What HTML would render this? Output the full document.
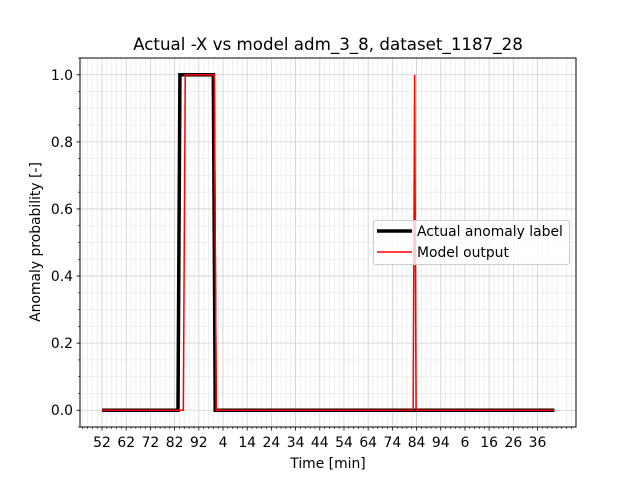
<!DOCTYPE html>
<html><head><meta charset="utf-8"><style>
body{margin:0;background:#fff}
svg text{font-family:"DejaVu Sans","Liberation Sans",sans-serif;fill:#000}
</style></head><body>
<svg id="c" width="640" height="480" viewBox="0 0 640 480">
<rect x="0" y="0" width="640" height="480" fill="#fff"/>
<g id="grid"></g><g id="series"></g><g id="axes"></g>
</svg>
<script>
const tickLabels=["52","62","72","82","92","4","14","24","34","44","54","64","74","84","94","6","16","26","36"];
const yTicks=[0,0.2,0.4,0.6,0.8,1.0];
const actualX=[0,31.4,32.2,46.0,46.8,129.3,129.5,187];
const actualY=[0,0,1,1,0,0,0,0];
const modelX=[0,33.6,34.4,46.4,47.2,128.6,129.2,129.8,187];
const modelY=[0,0,1,1,0,0,1,0,0];
const L=80,R=576,T=58,B=427,xmin=-9.1,xmax=195.9,ymin=-0.05,ymax=1.05;
const sx=v=>L+(v-xmin)/(xmax-xmin)*(R-L);
const sy=v=>B-(v-ymin)/(ymax-ymin)*(B-T);
const NS="http://www.w3.org/2000/svg";
function mk(tag,attrs,parent,txt){const e=document.createElementNS(NS,tag);for(const k in attrs)e.setAttribute(k,attrs[k]);if(txt!==undefined)e.textContent=txt;parent.appendChild(e);return e;}
const grid=document.getElementById('grid'),ser=document.getElementById('series'),ax=document.getElementById('axes');
for(let v=-8;v<=194;v+=2){if(v%10===0)continue;const g=mk('line',{x1:sx(v),x2:sx(v),y1:T,y2:B,stroke:'#ebebeb','stroke-width':0.8},grid);

}
for(let v=-0.05;v<=1.05;v+=0.05){if(Math.abs(Math.round(v*5)-v*5)<1e-6)continue;const g=mk('line',{x1:L,x2:R,y1:sy(v),y2:sy(v),stroke:'#ebebeb','stroke-width':0.8},grid);

}
tickLabels.forEach((t,i)=>{const x=sx(i*10);const g=mk('line',{x1:x,x2:x,y1:T,y2:B,stroke:'#cfcfcf','stroke-width':0.8},grid);

});
yTicks.forEach(v=>{const g=mk('line',{x1:L,x2:R,y1:sy(v),y2:sy(v),stroke:'#cfcfcf','stroke-width':0.8},grid);

});
const pts=(xs,ys)=>xs.map((x,i)=>sx(x)+','+sy(ys[i])).join(' ');
const a=mk('polyline',{points:pts(actualX,actualY),fill:'none',stroke:'#000','stroke-width':3.5},ser);


const m=mk('polyline',{points:pts(modelX,modelY),fill:'none',stroke:'#ff0000','stroke-width':1.5},ser);


const fr=mk('rect',{x:L,y:T,width:R-L,height:B-T,fill:'none',stroke:'#000','stroke-width':1},ax);


for(let v=-8;v<=194;v+=2){if(v%10===0&&v>=0&&v<=180)continue;const t=mk('line',{x1:sx(v),x2:sx(v),y1:B,y2:B+2,stroke:'#000','stroke-width':0.6},ax);

}
tickLabels.forEach((lab,i)=>{const x=sx(i*10);const t=mk('line',{x1:x,x2:x,y1:B,y2:B+3.5,stroke:'#000','stroke-width':0.8},ax);


const tx=mk('text',{x:x,y:B+20,'font-size':13.9,'text-anchor':'middle'},ax,lab);

});
for(let v=-0.05;v<=1.051;v+=0.05){const t=mk('line',{x1:L-2,x2:L,y1:sy(v),y2:sy(v),stroke:'#000','stroke-width':0.6},ax);

}
yTicks.forEach(v=>{const t=mk('line',{x1:L-3.5,x2:L,y1:sy(v),y2:sy(v),stroke:'#000','stroke-width':0.8},ax);


const tx=mk('text',{x:L-7,y:sy(v)+5,'font-size':13.9,'text-anchor':'end'},ax,v.toFixed(1));

});
</script>
<svg style="position:absolute;left:0;top:0" width="640" height="480">
<text x="328" y="50" font-size="16.7" text-anchor="middle" font-family="DejaVu Sans, Liberation Sans, sans-serif">Actual -X vs model adm_3_8, dataset_1187_28</text>
<text x="328" y="468" font-size="13.9" text-anchor="middle" font-family="DejaVu Sans, Liberation Sans, sans-serif">Time [min]</text>
<text transform="translate(40,242) rotate(-90)" font-size="13.9" text-anchor="middle" font-family="DejaVu Sans, Liberation Sans, sans-serif">Anomaly probability [-]</text>
<g>
<rect x="373.5" y="220.5" width="196" height="44" rx="2" fill="#fff" fill-opacity="0.8" stroke="#ccc" stroke-width="1"/>
<line x1="377" x2="412" y1="231" y2="231" stroke="#000" stroke-width="3.5"/>
<text x="417" y="236" font-size="13.9" font-family="DejaVu Sans, Liberation Sans, sans-serif">Actual anomaly label</text>
<line x1="377" x2="412" y1="252" y2="252" stroke="#ff0000" stroke-width="1.5"/>
<text x="417" y="257" font-size="13.9" font-family="DejaVu Sans, Liberation Sans, sans-serif">Model output</text>
</g>
</svg>
</body></html>
